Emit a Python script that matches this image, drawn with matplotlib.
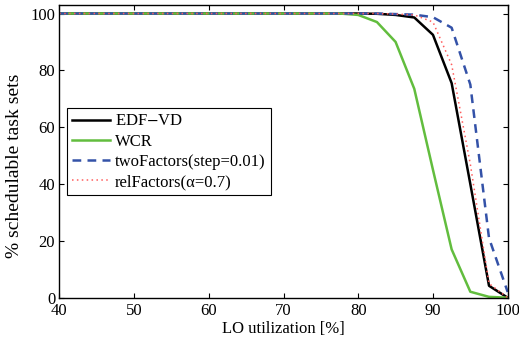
import matplotlib
matplotlib.use('Agg')
import matplotlib.pyplot as plt
import numpy as np

plt.rcParams['font.family'] = ['Liberation Serif', 'DejaVu Sans']
plt.rcParams['mathtext.fontset'] = 'stix'

# LO utilization [%]
util = [40, 42.5, 45, 47.5, 50, 52.5, 55, 57.5, 60, 62.5, 65, 67.5, 70,
        72.5, 75, 77.5, 80, 82.5, 85, 87.5, 90, 92.5, 95, 97.5, 100]

# % schedulable task sets
edf_vd = [100, 100, 100, 100, 100, 100, 100, 100, 100, 100, 100, 100, 100,
          100, 100, 100, 100, 99.9, 99.5, 98.6, 92.5, 75.5, 40, 4.2, 0]
wcr = [100, 100, 100, 100, 100, 100, 100, 100, 100, 100, 100, 100, 100,
       100, 100, 100, 99.5, 97, 90, 73.5, 45, 17, 2.1, 0.3, 0]
two_factors = [100, 100, 100, 100, 100, 100, 100, 100, 100, 100, 100, 100, 100,
               100, 100, 100, 100, 100, 99.8, 99.6, 98.7, 95, 75, 21, 2]
rel_factors = [100, 100, 100, 100, 100, 100, 100, 100, 100, 100, 100, 100, 100,
               100, 100, 100, 100, 100, 99.8, 99.5, 97, 82, 47, 5, 0]

fig = plt.figure(figsize=(5.19, 3.39), dpi=100)
ax = fig.add_axes([0.1143, 0.1218, 0.8639, 0.8635])

ax.plot(util, edf_vd, color='k', lw=1.8, label='EDF$-$VD')
ax.plot(util, wcr, color='#62bd3e', lw=1.8, label='WCR')
ax.plot(util, two_factors, color='#3452a8', lw=1.8, dashes=(3.5, 2.5),
        label='twoFactors(step=0.01)')
ax.plot(util, rel_factors, color='#ff5c5c', lw=1.1, dashes=(1, 2.2),
        label='relFactors(\u03b1=0.7)')

ax.set_xlim(40, 100)
ax.set_ylim(0, 103)
ax.set_xticks([40, 50, 60, 70, 80, 90, 100])
ax.set_yticks([0, 20, 40, 60, 80, 100])
ax.tick_params(direction='in', top=True, right=True, length=3.5, width=0.8,
               labelsize=12)
ax.tick_params(axis='x', pad=4)
ax.tick_params(axis='y', pad=3)
for s in ax.spines.values():
    s.set_linewidth(1.0)

ax.set_xlabel('LO utilization [%]', fontsize=12, labelpad=1)
ax.set_ylabel('% schedulable task sets', fontsize=14)
ax.yaxis.set_label_coords(-0.082, 0.45)

leg = ax.legend(loc='lower left', bbox_to_anchor=(0.0165, 0.351),
                borderaxespad=0, fontsize=12, fancybox=False,
                edgecolor='k', framealpha=1, handlelength=2.3,
                handletextpad=0.3, labelspacing=0.25, borderpad=0.3)
leg.get_frame().set_linewidth(0.8)

fig.savefig('out.png', dpi=100)
